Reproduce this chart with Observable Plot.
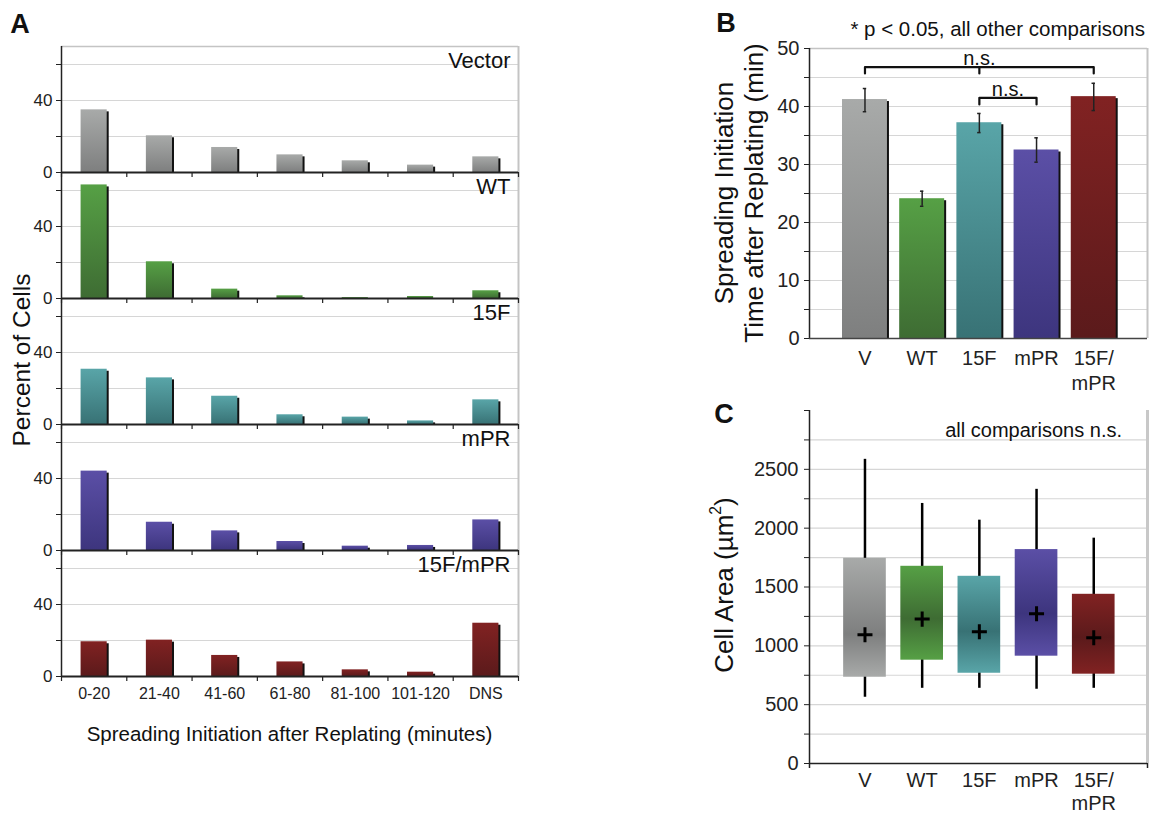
<!DOCTYPE html>
<html><head><meta charset="utf-8">
<script src="https://cdn.jsdelivr.net/npm/d3@7"></script>
<script src="https://cdn.jsdelivr.net/npm/@observablehq/plot@0.6"></script>
<style>
body{margin:0;background:#fff;font-family:"Liberation Sans",Arial,sans-serif;}
#fig{position:relative;width:1155px;height:814px;overflow:hidden;background:#fff;}
.t{position:absolute;line-height:1;white-space:nowrap;color:#111;transform:translate(-50%,-50%);}
.r{transform:translate(-50%,-50%) rotate(-90deg);text-align:center;}
.ra{transform:translate(-100%,-50%);}
.bold{font-weight:bold;}
</style></head><body><div id="fig"></div>
<script>
// ---------- Panel A data ----------
const groups = ["Vector","WT","15F","mPR","15F/mPR"];
const bins = ["0-20","21-40","41-60","61-80","81-100","101-120","DNS"];
const pctVector  = [34.8,20.4,13.9,9.8,6.5,4.1,8.7];
const pctWT      = [63.1,20.4,5.2,1.5,0.5,1.1,4.3];
const pct15F     = [30.7,25.9,15.7,5.4,4.1,2.0,13.7];
const pctMPR     = [44.1,15.7,10.9,5.0,2.4,2.8,17.0];
const pct15FmPR  = [19.3,20.2,11.7,8.1,3.7,2.4,29.6];
const aTicks = [0,20,40,60];
const aTickLabels = [0,40];
const aYMax = 70;

// ---------- Panel B data ----------
const cats = ["V","WT","15F","mPR","15F/\nmPR"];
const spreadMean = [41.2,24.1,37.2,32.5,41.7];
const spreadLo   = [39.1,22.8,35.5,30.4,39.3];
const spreadHi   = [43.1,25.4,38.8,34.6,44.0];
const bTicks = [0,5,10,15,20,25,30,35,40,45,50];
const bTickLabels = [0,10,20,30,40,50];
const brackets = [
  {id:"b1", from:0, to:4, y:46.8, drop:1.1, mid:2, label:"n.s."},
  {id:"b2", from:2, to:3, y:41.5, drop:1.15, mid:null, label:"n.s."}
];

// ---------- Panel C data ----------
const areaLowWhisker  = [563,639,639,631,639];
const areaQ1          = [733,878,767,912,759];
const areaQ3          = [1744,1676,1591,1818,1438];
const areaHighWhisker = [2585,2210,2068,2330,1915];
const areaMean        = [1094,1227,1119,1273,1068];
const cTicks = [0,250,500,750,1000,1250,1500,1750,2000,2250,2500,2750,3000];
const cTickLabels = [0,500,1000,1500,2000,2500];

// ---------- colours ----------
const lightColors = ["#a8aaa9","#56a045","#59a5a8","#5b4fa6","#812222"];
const darkColors  = ["#7e7f7f","#3e6c33","#387275","#3d357e","#5b1a1b"];

const FONT = "Liberation Sans, Arial, sans-serif";
const fig = document.getElementById("fig");

// gradient definitions
const defs = d3.select(fig).append("svg").attr("width",0).attr("height",0)
  .style("position","absolute").append("defs");
lightColors.forEach((lc,i)=>{
  const g = defs.append("linearGradient").attr("id","gV"+i).attr("x1",0).attr("y1",0).attr("x2",0).attr("y2",1);
  g.append("stop").attr("offset",0).attr("stop-color",lc);
  g.append("stop").attr("offset",1).attr("stop-color",darkColors[i]);
  const f = (areaQ3[i]-areaMean[i])/(areaQ3[i]-areaQ1[i]);
  const c = defs.append("linearGradient").attr("id","gC"+i).attr("x1",0).attr("y1",0).attr("x2",0).attr("y2",1);
  c.append("stop").attr("offset",0).attr("stop-color",lc);
  c.append("stop").attr("offset",f).attr("stop-color",darkColors[i]);
  c.append("stop").attr("offset",1).attr("stop-color",lc);
});

function place(node, left, top){
  node.style.position="absolute"; node.style.left=left+"px"; node.style.top=top+"px";
  fig.appendChild(node);
}
function label(html, x, y, size, cls=""){
  const d=document.createElement("div"); d.className="t "+cls; d.innerHTML=html;
  d.style.left=x+"px"; d.style.top=y+"px"; d.style.fontSize=size+"px";
  fig.appendChild(d); return d;
}
const plain = d => `${d}`;

// ---------- Panel A ----------
const series = [pctVector,pctWT,pct15F,pctMPR,pct15FmPR];
const aData = groups.flatMap((g,gi)=>series[gi].map((v,i)=>({g,gi,i,v})));
const barL = 0.3, barR = 0.7;
const plotA = Plot.plot({
  width:530, height:760, marginTop:45, marginBottom:83, marginLeft:61, marginRight:12,
  x:{domain:[0,bins.length], axis:null},
  y:{domain:[0,aYMax], axis:null},
  fy:{domain:groups, padding:0, axis:null, label:null},
  color:{type:"identity"},
  style:{fontFamily:FONT, color:"#222", background:"transparent", overflow:"visible"},
  marks:[
    Plot.ruleY([20,40,60], {stroke:"#d6d6d6", strokeWidth:1.2}),
    Plot.ruleY([{g:groups[0], y:aYMax}], {fy:"g", y:"y", stroke:"#c4c4c4", strokeWidth:1.5}),
    Plot.ruleX([bins.length], {stroke:"#c4c4c4", strokeWidth:2}),
    Plot.rect(aData, {fy:"g", x1:d=>d.i+barL, x2:d=>d.i+barR, y1:0, y2:"v", fill:"#111", dx:2, insetTop:2}),
    Plot.rect(aData, {fy:"g", x1:d=>d.i+barL, x2:d=>d.i+barR, y1:0, y2:"v", fill:d=>`url(#gV${d.gi})`}),
    Plot.ruleY([0], {stroke:"#222", strokeWidth:2}),
    Plot.ruleX([0], {stroke:"#222", strokeWidth:1.5}),
    Plot.ruleX(d3.range(bins.length+1), {x:d=>d, y1:0, y2:0, insetBottom:-5, stroke:"#222", strokeWidth:1.2}),
    Plot.axisY({ticks:aTicks, tickFormat:d=>aTickLabels.includes(d)?plain(d):"", tickSize:5, tickPadding:4, fontSize:17, label:null}),
    Plot.axisX({ticks:bins.map((b,i)=>i+0.5), tickFormat:d=>bins[Math.floor(d)], tickSize:0, tickPadding:11, fontSize:16, label:null}),
    Plot.text(groups, {fy:d=>d, text:d=>d, frameAnchor:"top-right", dx:-8, dy:6, fontSize:22, fill:"#111"})
  ]
});
place(plotA, 0, 0);

// ---------- Panel B ----------
const xDomBC = [-0.97, 4.94];
const halfB = 0.393;
const bData = cats.map((c,i)=>({i, mean:spreadMean[i], lo:spreadLo[i], hi:spreadHi[i]}));
const capData = bData.flatMap(d=>[d.lo,d.hi].map(y=>({x:d.i, y})));
const bracketPts = brackets.flatMap(b=>{
  const pts = [
    {id:b.id, x:b.from, y:b.y-b.drop}, {id:b.id, x:b.from, y:b.y},
    {id:b.id, x:b.to, y:b.y}, {id:b.id, x:b.to, y:b.y-b.drop}];
  if (b.mid!==null) pts.push({id:b.id+"m", x:b.mid, y:b.y}, {id:b.id+"m", x:b.mid, y:b.y-b.drop});
  return pts;
});
const plotB = Plot.plot({
  width:465, height:400, marginLeft:119, marginRight:8, marginTop:48, marginBottom:62,
  x:{domain:xDomBC, axis:null},
  y:{domain:[0,50], axis:null},
  color:{type:"identity"},
  style:{fontFamily:FONT, color:"#222", background:"transparent", overflow:"visible"},
  marks:[
    Plot.ruleY(bTicks.filter(t=>t>0&&t<50), {stroke:"#d6d6d6", strokeWidth:1.2}),
    Plot.ruleY([50], {stroke:"#c4c4c4", strokeWidth:1.5}),
    Plot.ruleX([xDomBC[1]], {stroke:"#c4c4c4", strokeWidth:2}),
    Plot.rect(bData, {x1:d=>d.i-halfB, x2:d=>d.i+halfB, y1:0, y2:"mean", fill:"#111", dx:2, insetTop:2}),
    Plot.rect(bData, {x1:d=>d.i-halfB, x2:d=>d.i+halfB, y1:0, y2:"mean", fill:d=>`url(#gV${d.i})`}),
    Plot.ruleX(bData, {x:"i", y1:"lo", y2:"hi", stroke:"#222", strokeWidth:1.5}),
    Plot.ruleY(capData, {y:"y", x1:d=>d.x-0.03, x2:d=>d.x+0.03, stroke:"#222", strokeWidth:1.5}),
    Plot.line(bracketPts, {x:"x", y:"y", z:"id", stroke:"#111", strokeWidth:2.2}),
    Plot.text(brackets, {x:d=>(d.from+d.to)/2, y:"y", text:"label", lineAnchor:"bottom", dy:-2, fontSize:20, fill:"#111"}),
    Plot.ruleX([xDomBC[0]], {stroke:"#222", strokeWidth:1.5}),
    Plot.ruleY([0], {stroke:"#444", strokeWidth:1.5}),
    Plot.axisY({ticks:bTicks, tickFormat:d=>bTickLabels.includes(d)?plain(d):"", tickSize:5, tickPadding:5, fontSize:20, label:null}),
    Plot.axisX({ticks:d3.range(cats.length), tickFormat:i=>cats[i], tickSize:0, tickPadding:9, fontSize:20, lineHeight:1.25, label:null})
  ]
});
place(plotB, 690, 0);

// ---------- Panel C ----------
const halfC = 0.373;
const cData = cats.map((c,i)=>({i, lo:areaLowWhisker[i], q1:areaQ1[i], q3:areaQ3[i], hi:areaHighWhisker[i], mean:areaMean[i]}));
const plotC = Plot.plot({
  width:465, height:414, marginLeft:119, marginRight:8, marginTop:10, marginBottom:51,
  x:{domain:xDomBC, axis:null},
  y:{domain:[0,3000], axis:null},
  color:{type:"identity"},
  style:{fontFamily:FONT, color:"#222", background:"transparent", overflow:"visible"},
  marks:[
    Plot.ruleY(cTicks.filter(t=>t>0&&t<3000), {stroke:"#d6d6d6", strokeWidth:1.2}),
    Plot.ruleX([xDomBC[1]], {stroke:"#c8c8c8", strokeWidth:3}),
    Plot.ruleX(cData, {x:"i", y1:"lo", y2:"hi", stroke:"#000", strokeWidth:2.5}),
    Plot.rect(cData, {x1:d=>d.i-halfC, x2:d=>d.i+halfC, y1:"q1", y2:"q3", fill:d=>`url(#gC${d.i})`}),
    Plot.dot(cData, {x:"i", y:"mean", symbol:"plus", r:4.9, stroke:"#000", strokeWidth:3}),
    Plot.ruleX([xDomBC[0]], {stroke:"#222", strokeWidth:1.5}),
    Plot.ruleY([0], {stroke:"#222", strokeWidth:1.5}),
    Plot.ruleX(xDomBC, {x:d=>d, y1:0, y2:0, insetBottom:-5, stroke:"#222", strokeWidth:1.5}),
    Plot.axisY({ticks:cTicks, tickFormat:d=>cTickLabels.includes(d)?plain(d):"", tickSize:5, tickPadding:6, fontSize:20, label:null}),
    Plot.axisX({ticks:d3.range(cats.length), tickFormat:i=>cats[i], tickSize:0, tickPadding:7, fontSize:20, lineHeight:1.15, label:null})
  ]
});
place(plotC, 690, 400);

// ---------- text labels ----------
label("A", 20, 24, 27, "bold");
label("B", 726, 23, 27, "bold");
label("C", 724, 414, 27, "bold");
label("Percent of Cells", 22, 360, 24.5, "r");
label("Spreading Initiation after Replating (minutes)", 289.5, 734, 20.5);
const bt = label("Spreading Initiation<br>Time after Replating (min)", 739, 193, 26, "r");
bt.style.lineHeight = "30px";
label("Cell Area (µm<sup style='font-size:0.6em;vertical-align:0.75em;line-height:0'>2</sup>)", 724, 585, 26, "r");
label("* p &lt; 0.05, all other comparisons", 1145, 29, 20.5, "ra");
label("all comparisons n.s.", 1122, 430, 20, "ra");
</script></body></html>
